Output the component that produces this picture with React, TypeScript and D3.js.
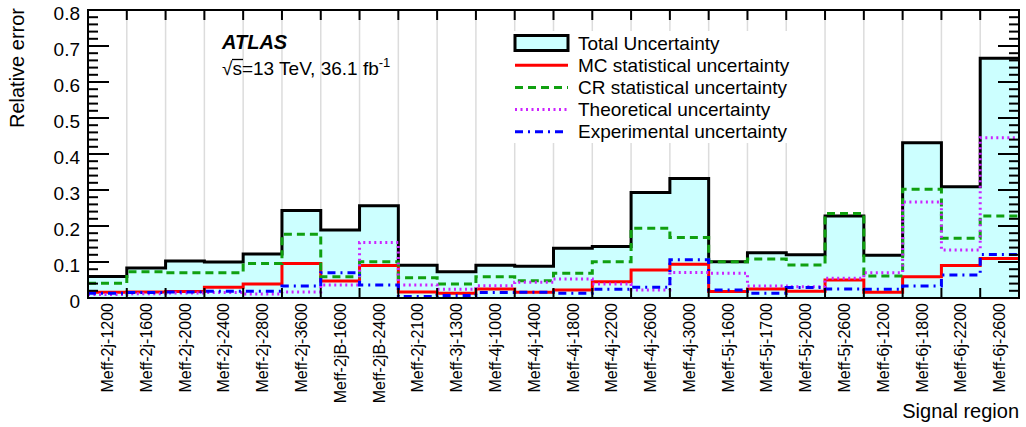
import { useEffect, useRef } from "react";
import * as d3 from "d3";

const regions = [
  "Meff-2j-1200", "Meff-2j-1600", "Meff-2j-2000", "Meff-2j-2400", "Meff-2j-2800",
  "Meff-2j-3600", "Meff-2jB-1600", "Meff-2jB-2400", "Meff-2j-2100", "Meff-3j-1300",
  "Meff-4j-1000", "Meff-4j-1400", "Meff-4j-1800", "Meff-4j-2200", "Meff-4j-2600",
  "Meff-4j-3000", "Meff-5j-1600", "Meff-5j-1700", "Meff-5j-2000", "Meff-5j-2600",
  "Meff-6j-1200", "Meff-6j-1800", "Meff-6j-2200", "Meff-6j-2600",
];

const totalUnc = [
  0.060, 0.083, 0.103, 0.100, 0.122, 0.243, 0.189, 0.256, 0.091, 0.073, 0.091, 0.088,
  0.138, 0.143, 0.293, 0.332, 0.101, 0.126, 0.120, 0.228, 0.119, 0.431, 0.309, 0.666,
];
const mcStat = [
  0.016, 0.017, 0.018, 0.030, 0.039, 0.096, 0.047, 0.090, 0.017, 0.013, 0.025, 0.016,
  0.022, 0.045, 0.078, 0.094, 0.018, 0.025, 0.019, 0.050, 0.016, 0.059, 0.090, 0.110,
];
const crStat = [
  0.041, 0.073, 0.070, 0.070, 0.096, 0.177, 0.059, 0.101, 0.056, 0.039, 0.059, 0.048,
  0.069, 0.101, 0.194, 0.168, 0.101, 0.108, 0.092, 0.235, 0.061, 0.302, 0.166, 0.228,
];
const theoryUnc = [
  0.010, 0.012, 0.014, 0.015, 0.011, 0.017, 0.036, 0.154, 0.036, 0.024, 0.034, 0.044,
  0.053, 0.039, 0.022, 0.071, 0.069, 0.033, 0.031, 0.055, 0.070, 0.267, 0.133, 0.445,
];
const expUnc = [
  0.013, 0.015, 0.017, 0.019, 0.019, 0.033, 0.070, 0.036, 0.004, 0.007, 0.015, 0.016,
  0.013, 0.024, 0.030, 0.106, 0.022, 0.013, 0.029, 0.025, 0.024, 0.033, 0.064, 0.121,
];

const yTicks = [0, 0.1, 0.2, 0.3, 0.4, 0.5, 0.6, 0.7, 0.8];

const series = [
  { label: "MC statistical uncertainty", values: mcStat, color: "#ff0000", dash: null },
  { label: "CR statistical uncertainty", values: crStat, color: "#10a010", dash: "8,5" },
  { label: "Theoretical uncertainty", values: theoryUnc, color: "#cc22ff", dash: "2,3.5" },
  { label: "Experimental uncertainty", values: expUnc, color: "#0000ff", dash: "8,5,2,5" },
];

const W = 1026;
const H = 427;
const FONT = "'Liberation Sans', Arial, sans-serif";

function App() {
  const ref = useRef<SVGSVGElement>(null);

  useEffect(() => {
    const svg = d3.select(ref.current);
    svg.selectAll("*").remove();

    const left = 88, right = 1019, top = 10, bottom = 298;
    const n = regions.length;

    const x = d3.scaleLinear().domain([0, n]).range([left, right]);
    const y = d3.scaleLinear().domain([0, 0.8]).range([bottom, top]);
    const edges = d3.range(n + 1);

    // grid lines at bin edges
    svg.append("g")
      .selectAll("line")
      .data(edges.slice(1, n))
      .join("line")
      .attr("x1", d => x(d)).attr("x2", d => x(d))
      .attr("y1", top).attr("y2", bottom)
      .attr("stroke", "#dcdcdc")
      .attr("stroke-width", 1.5);

    const stepPts = (vals: number[]) => vals.map((v, i) => [i, v]).concat([[n, vals[n - 1]]]);

    const area = d3.area<number[]>()
      .x(d => x(d[0]))
      .y0(y(0))
      .y1(d => y(d[1]))
      .curve(d3.curveStepAfter);
    const line = d3.line<number[]>()
      .x(d => x(d[0]))
      .y(d => y(d[1]))
      .curve(d3.curveStepAfter);

    // legend background hides grid
    svg.append("rect")
      .attr("x", 505).attr("y", 31).attr("width", 300).attr("height", 112)
      .attr("fill", "white");

    svg.append("path")
      .attr("d", area(stepPts(totalUnc)))
      .attr("fill", "#ccffff");
    svg.append("path")
      .attr("d", line(stepPts(totalUnc)))
      .attr("fill", "none")
      .attr("stroke", "black")
      .attr("stroke-width", 3);

    series.forEach(s => {
      svg.append("path")
        .attr("d", line(stepPts(s.values)))
        .attr("fill", "none")
        .attr("stroke", s.color)
        .attr("stroke-width", 3)
        .attr("stroke-dasharray", s.dash);
    });

    // frame
    svg.append("rect")
      .attr("x", left).attr("y", top)
      .attr("width", right - left).attr("height", bottom - top)
      .attr("fill", "none").attr("stroke", "black").attr("stroke-width", 2);

    // x ticks top and bottom
    const xt = svg.append("g").attr("stroke", "black").attr("stroke-width", 2);
    edges.slice(1, n).forEach(e => {
      xt.append("line").attr("x1", x(e)).attr("x2", x(e)).attr("y1", top).attr("y2", top + 10);
      xt.append("line").attr("x1", x(e)).attr("x2", x(e)).attr("y1", bottom).attr("y2", bottom - 10);
    });

    // y ticks left and right
    const minor = d3.range(0, 0.8001, 0.02);
    const yt = svg.append("g").attr("stroke", "black").attr("stroke-width", 2);
    minor.forEach(v => {
      const major = Math.abs(v * 10 - Math.round(v * 10)) < 1e-6;
      const len = major ? 21 : 10;
      yt.append("line").attr("x1", left).attr("x2", left + len).attr("y1", y(v)).attr("y2", y(v));
      yt.append("line").attr("x1", right).attr("x2", right - len).attr("y1", y(v)).attr("y2", y(v));
    });

    // y labels
    svg.append("g")
      .selectAll("text")
      .data(yTicks)
      .join("text")
      .attr("x", 80)
      .attr("y", d => y(d) + 3)
      .attr("dy", "0.35em")
      .attr("text-anchor", "end")
      .attr("font-family", FONT)
      .attr("font-size", 19)
      .text(d => (d === 0 ? "0" : d.toFixed(1)));

    svg.append("text")
      .attr("transform", "translate(24, 8) rotate(-90)")
      .attr("text-anchor", "end")
      .attr("font-family", FONT)
      .attr("font-size", 20)
      .text("Relative error");

    // x labels
    svg.append("g")
      .selectAll("text")
      .data(regions)
      .join("text")
      .attr("transform", (d, i) => `translate(${x(i + 0.5)}, 303) rotate(-90)`)
      .attr("dy", "0.35em")
      .attr("text-anchor", "end")
      .attr("font-family", FONT)
      .attr("font-size", 16)
      .text(d => d);

    svg.append("text")
      .attr("x", 1019).attr("y", 418)
      .attr("text-anchor", "end")
      .attr("font-family", FONT)
      .attr("font-size", 20)
      .text("Signal region");

    // ATLAS label
    svg.append("text")
      .attr("x", 222).attr("y", 49)
      .attr("font-family", FONT)
      .attr("font-size", 20)
      .attr("font-weight", "bold")
      .attr("font-style", "italic")
      .text("ATLAS");

    const lumi = svg.append("text")
      .attr("x", 222).attr("y", 75)
      .attr("font-family", FONT)
      .attr("font-size", 19);
    lumi.append("tspan").text("\u221A");
    lumi.append("tspan").text("s=13 TeV, 36.1 fb");
    lumi.append("tspan").attr("dy", -8).attr("font-size", 13).text("-1");
    svg.append("line")
      .attr("x1", 232).attr("x2", 243).attr("y1", 59.5).attr("y2", 59.5)
      .attr("stroke", "black").attr("stroke-width", 1.3);

    // legend
    const lx0 = 515, lx1 = 568, tx = 578, rowY = (i: number) => 43 + i * 22.2;
    svg.append("rect")
      .attr("x", lx0).attr("y", rowY(0) - 7.5)
      .attr("width", lx1 - lx0).attr("height", 15)
      .attr("fill", "#ccffff").attr("stroke", "black").attr("stroke-width", 3);
    const labels = ["Total Uncertainty", ...series.map(s => s.label)];
    series.forEach((s, i) => {
      svg.append("line")
        .attr("x1", lx0).attr("x2", lx1)
        .attr("y1", rowY(i + 1)).attr("y2", rowY(i + 1))
        .attr("stroke", s.color).attr("stroke-width", 3)
        .attr("stroke-dasharray", s.dash);
    });
    svg.append("g")
      .selectAll("text")
      .data(labels)
      .join("text")
      .attr("x", tx)
      .attr("y", (d, i) => rowY(i))
      .attr("dy", "0.35em")
      .attr("font-family", FONT)
      .attr("font-size", 19)
      .text(d => d);
  }, []);

  return (
    <svg ref={ref} width={W} height={H}
      style={{ position: "absolute", left: 0, top: 0, background: "white" }} />
  );
}

export default App;
